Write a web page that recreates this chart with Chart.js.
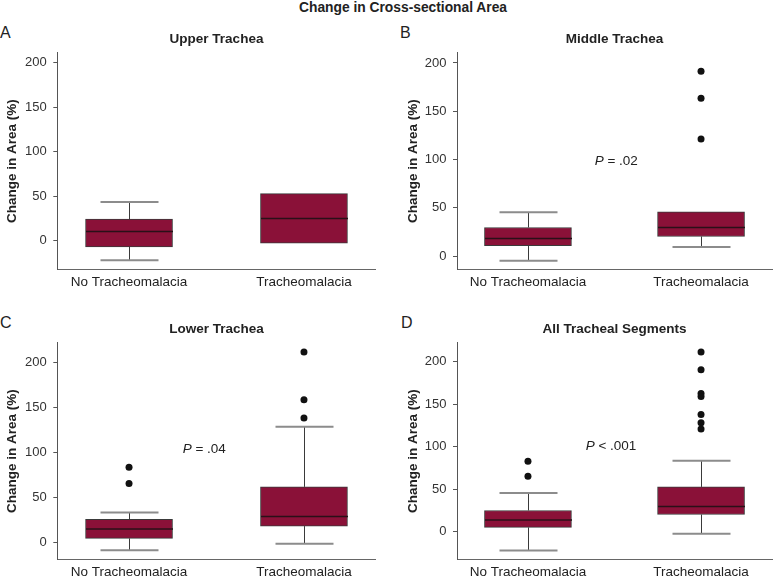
<!DOCTYPE html>
<html>
<head>
<meta charset="utf-8">
<script src="https://cdn.jsdelivr.net/npm/chart.js@4.4.1/dist/chart.umd.min.js"></script>
<style>
  body { margin: 0; background: #fff; }
  #wrap { position: relative; width: 776px; height: 579px; font-family: 'Liberation Sans', Arial, sans-serif; color: #222; }
  #wrap canvas { position: absolute; }
  .main-title { position: absolute; left: 299px; top: 0; font-weight: bold; font-size: 13.8px; line-height: 15px; white-space: nowrap; }
  .letter { position: absolute; font-size: 16px; line-height: 16px; }
</style>
</head>
<body>
<div id="wrap">
  <div class="main-title">Change in Cross-sectional Area</div>
  <div class="letter" style="left:0;top:25px">A</div>
  <div class="letter" style="left:400px;top:25px">B</div>
  <div class="letter" style="left:0;top:315px">C</div>
  <div class="letter" style="left:401px;top:315px">D</div>
  <canvas id="cA" width="388" height="290" style="left:0;top:0"></canvas>
  <canvas id="cB" width="388" height="290" style="left:388px;top:0"></canvas>
  <canvas id="cC" width="388" height="289" style="left:0;top:290px"></canvas>
  <canvas id="cD" width="388" height="289" style="left:388px;top:290px"></canvas>
</div>
<script>
// categories and y ticks
var categories = ['No Tracheomalacia', 'Tracheomalacia'];
var yTicks = [0, 50, 100, 150, 200];

// box stats: [low whisker, Q1, median, Q3, high whisker]
var upperNo = [-22, -7, 10.5, 24.3, 43.7];
var upperTm = [-2.6, -2.6, 25, 53, 53];
var upperOutNo = [];
var upperOutTm = [];

var middleNo = [-4.8, 10.7, 18.3, 29.6, 45.5];
var middleTm = [9.3, 20.3, 29.6, 45.8, 45.8];
var middleOutNo = [];
var middleOutTm = [191.4, 163.5, 121.2];

var lowerNo = [-8.9, 4.4, 14.8, 25.6, 33.3];
var lowerTm = [-1.5, 18.1, 28.9, 61.8, 128.9];
var lowerOutNo = [83.7, 65.6];
var lowerOutTm = [212.2, 158.9, 138.5];

var allNo = [-22.4, 4.7, 13.6, 24.7, 45.4];
var allTm = [-2.8, 20, 29.4, 52.5, 83.5];
var allOutNo = [82.7, 65.1];
var allOutTm = [211.8, 190.6, 162.7, 159.2, 138, 128.2, 120.7];

var FILL = '#8a1138';
var FONT = "'Liberation Sans', Arial, sans-serif";
Chart.defaults.font.family = FONT;
Chart.defaults.color = '#222';

// whiskers, caps, medians and the P value label
var boxExtras = {
	id: 'boxExtras',
	afterDatasetsDraw: function (chart) {
		var cfg = chart.options.plugins.boxExtras;
		var xs = chart.scales.x, ys = chart.scales.y;
		var ctx = chart.ctx;
		ctx.save();
		cfg.boxes.forEach(function (b, i) {
			var px = Math.round(xs.getPixelForValue(i)) + 0.5;
			var y = b.map(function (v) { return ys.getPixelForValue(v); });
			// whisker stems
			ctx.strokeStyle = '#3a3a3a';
			ctx.lineWidth = 1;
			ctx.beginPath();
			if (b[4] > b[3]) { ctx.moveTo(px, y[3]); ctx.lineTo(px, y[4]); }
			if (b[0] < b[1]) { ctx.moveTo(px, y[1]); ctx.lineTo(px, y[0]); }
			ctx.stroke();
			// caps
			ctx.strokeStyle = '#8c8c8c';
			ctx.lineWidth = 2;
			ctx.beginPath();
			if (b[4] > b[3]) { ctx.moveTo(px - 29, y[4]); ctx.lineTo(px + 29, y[4]); }
			if (b[0] < b[1]) { ctx.moveTo(px - 29, y[0]); ctx.lineTo(px + 29, y[0]); }
			ctx.stroke();
			// median
			ctx.strokeStyle = '#2a1018';
			ctx.lineWidth = 1.5;
			ctx.beginPath();
			ctx.moveTo(px - 43.5, y[2]); ctx.lineTo(px + 43.5, y[2]);
			ctx.stroke();
		});
		if (cfg.p) {
			var tx = xs.getPixelForValue(cfg.p.x), ty = ys.getPixelForValue(cfg.p.y);
			ctx.fillStyle = '#222';
			ctx.textBaseline = 'middle';
			ctx.font = 'italic 13.5px ' + FONT;
			var w1 = ctx.measureText('P').width;
			ctx.font = '13.5px ' + FONT;
			var rest = ' ' + cfg.p.text;
			var w2 = ctx.measureText(rest).width;
			var x0 = tx - (w1 + w2) / 2;
			ctx.font = 'italic 13.5px ' + FONT;
			ctx.textAlign = 'left';
			ctx.fillText('P', x0, ty);
			ctx.font = '13.5px ' + FONT;
			ctx.fillText(rest, x0 + w1, ty);
		}
		ctx.restore();
	}
};

function makePanel(id, title, no, tm, outNo, outTm, yMin, yMax, axisW, titlePad, rightPad, p) {
	var outliers = outNo.map(function (v) { return { x: 0, y: v }; })
		.concat(outTm.map(function (v) { return { x: 1, y: v }; }));
	var canvas = document.getElementById(id);
	var xAxisH = canvas.height - 269.3;
	new Chart(canvas, {
		type: 'bar',
		data: {
			datasets: [
				{
					type: 'bar',
					data: [{ x: 0, y: [no[1], no[3]] }, { x: 1, y: [tm[1], tm[3]] }],
					backgroundColor: FILL,
					borderColor: '#3a3a3a',
					borderWidth: 1,
					borderSkipped: false,
					barThickness: 87
				},
				{
					type: 'scatter',
					data: outliers,
					pointRadius: 3.5,
					pointBackgroundColor: '#111',
					pointBorderWidth: 0
				}
			]
		},
		options: {
			responsive: false,
			animation: false,
			devicePixelRatio: 1,
			layout: { padding: { left: 0, right: rightPad, top: 0, bottom: 0 } },
			plugins: {
				legend: { display: false },
				tooltip: { enabled: false },
				title: {
					display: true, text: title, fullSize: false, color: '#222',
					font: { size: 13.5, weight: 'bold' }, padding: { top: 31.5, bottom: 5.2 }
				},
				boxExtras: { boxes: [no, tm], p: p }
			},
			scales: {
				x: {
					type: 'linear', min: -0.41, max: 1.41, offset: false,
					afterBuildTicks: function (s) { s.ticks = [{ value: 0 }, { value: 1 }]; },
					afterFit: function (s) { s.height = xAxisH; },
					ticks: {
						autoSkip: false, maxRotation: 0, padding: 5.2, color: '#222', font: { size: 13.5 },
						callback: function (v) { return categories[v] || ''; }
					},
					grid: { display: false, drawTicks: false },
					border: { display: true, color: '#666', width: 1 }
				},
				y: {
					min: yMin, max: yMax,
					afterBuildTicks: function (s) { s.ticks = yTicks.map(function (v) { return { value: v }; }); },
					afterFit: function (s) { s.width = axisW; },
					ticks: { padding: 6.5, color: '#333', font: { size: 13 } },
					grid: { display: true, drawOnChartArea: false, drawTicks: true, tickLength: 4, color: '#555' },
					border: { display: true, color: '#555', width: 1 },
					title: {
						display: true, text: 'Change in Area (%)', color: '#222',
						font: { size: 13.5, weight: 'bold' }, padding: { top: titlePad, bottom: 0 }
					}
				}
			}
		},
		plugins: [boxExtras]
	});
}

makePanel('cA', 'Upper Trachea', upperNo, upperTm, upperOutNo, upperOutTm, -32.1, 211.2, 57.3, 4.5, 12.3, null);
makePanel('cB', 'Middle Trachea', middleNo, middleTm, middleOutNo, middleOutTm, -13.7, 210.4, 69, 16.9, 1, { text: '= .02', x: 0.51, y: 98 });
makePanel('cC', 'Lower Trachea', lowerNo, lowerTm, lowerOutNo, lowerOutTm, -18.9, 222.2, 57.3, 4.5, 12.3, { text: '= .04', x: 0.43, y: 104 });
makePanel('cD', 'All Tracheal Segments', allNo, allTm, allOutNo, allOutTm, -32.9, 222.4, 69, 16.9, 1, { text: '< .001', x: 0.48, y: 100 });
</script>
</body>
</html>
